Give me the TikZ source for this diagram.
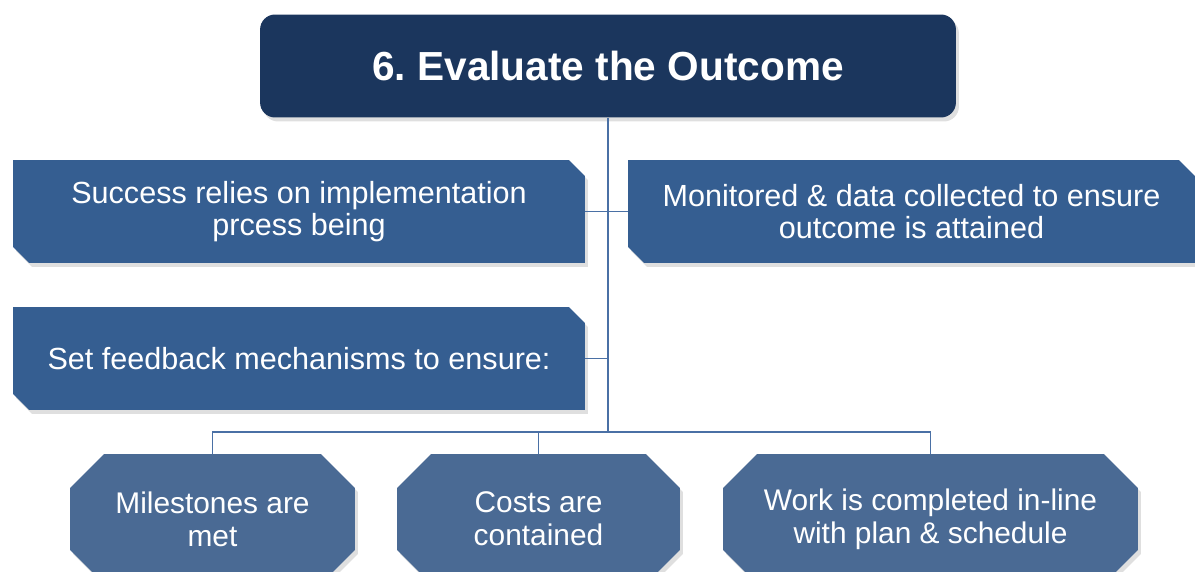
\documentclass[tikz,border=0pt]{standalone}
\usepackage{fontspec}
\setmainfont{Liberation Sans}
\usepackage{tikz}
\usetikzlibrary{shapes.misc,shadows}

\definecolor{titleblue}{HTML}{1B365D}
\definecolor{boxblue}{HTML}{355E91}
\definecolor{octblue}{HTML}{4A6A94}
\definecolor{linkblue}{HTML}{4A70A5}

\tikzset{
  titlebox/.style={rounded corners=0.3cm,fill=titleblue,text=white,
    minimum width=13.92cm,minimum height=2.06cm,inner sep=0pt,
    font=\bfseries\fontsize{23.1}{26}\selectfont,
    drop shadow={shadow xshift=0.06cm,shadow yshift=-0.08cm,opacity=0.25}},
  snipbox/.style={chamfered rectangle,chamfered rectangle corners={north east,south west},
    chamfered rectangle xsep=0.16cm,chamfered rectangle ysep=0.16cm,
    fill=boxblue,text=white,inner sep=0pt,align=center,
    minimum height=2.06cm,font=\fontsize{17.4}{18.6}\selectfont,
    drop shadow={shadow xshift=0.06cm,shadow yshift=-0.08cm,opacity=0.25}},
  octbox/.style={chamfered rectangle,chamfered rectangle xsep=0.34cm,
    chamfered rectangle ysep=0.34cm,
    fill=octblue,text=white,inner sep=0pt,align=center,
    minimum height=2.6cm,font=\fontsize{17}{18.8}\selectfont,
    drop shadow={shadow xshift=0.06cm,shadow yshift=-0.08cm,opacity=0.25}},
  link/.style={draw=linkblue,line width=1.1pt}
}

\begin{document}
\begin{tikzpicture}[x=0.02cm,y=-0.02cm]
\useasboundingbox (0,0) rectangle (1195,571);
\clip (0,0) rectangle (1195,571);

\node[titlebox] (outcome) at (608,66) {6.\ Evaluate the Outcome};

\node[snipbox,minimum width=11.44cm] (success) at (299,211.5) {Success relies on implementation\\prcess being};
\node[snipbox,minimum width=11.34cm] (monitor) at (911.5,211.5) {Monitored \& data collected to ensure\\outcome is attained};
\node[snipbox,minimum width=11.44cm] (feedback) at (299,358.5) {Set feedback mechanisms to ensure:};

\node[octbox,minimum width=5.7cm] (milestones) at (212.5,519) {Milestones are\\met};
\node[octbox,minimum width=5.66cm] (costs) at (538.5,519) {Costs are\\contained};
\node[octbox,minimum width=8.3cm] (work) at (930.5,519) {Work is completed in-line\\with plan \& schedule};

\coordinate (bus) at (608,432);

\draw[link] (outcome.south) -- (bus);
\draw[link] (success.east) -- (monitor.west);
\draw[link] (feedback.east) -- (feedback.east -| bus);
\draw[link] (milestones.north) |- (work.north |- bus) -- (work.north);
\draw[link] (costs.north) -- (costs.north |- bus);
\end{tikzpicture}
\end{document}
